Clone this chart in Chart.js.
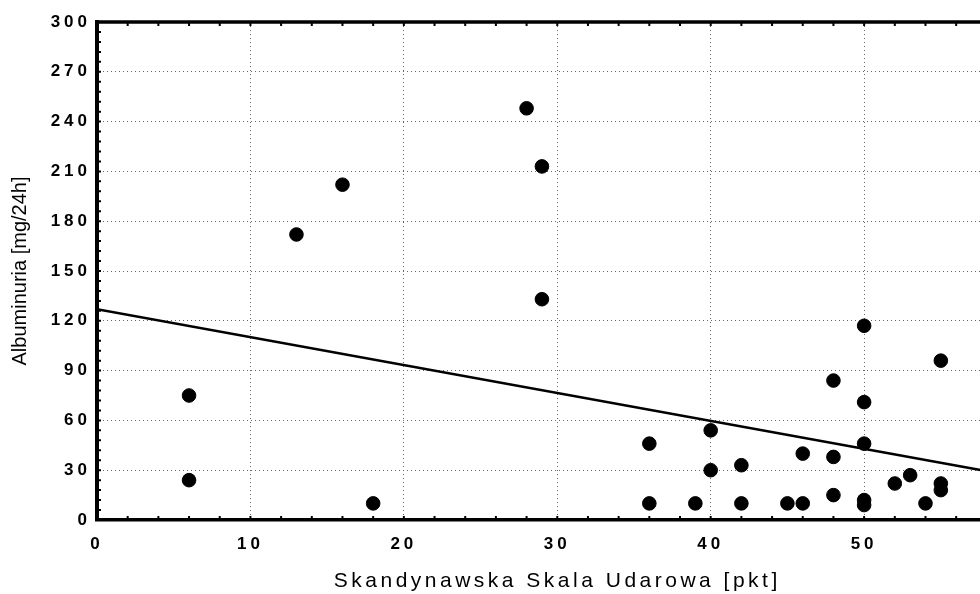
<!DOCTYPE html>
<html>
<head>
<meta charset="utf-8">
<script src="https://cdn.jsdelivr.net/npm/chart.js@4"></script>
<style>
  html, body { margin: 0; padding: 0; background: #fff; overflow: hidden; }
  #wrap { position: relative; width: 1041px; height: 594px; }
</style>
</head>
<body>
<div id="wrap"><canvas id="scatter"></canvas></div>
<script>
// Skandynawska Skala Udarowa [pkt] vs Albuminuria [mg/24h]
const sssValues = [6, 6, 13, 16, 18, 28, 29, 29, 36, 36, 39, 40, 40, 42, 42, 45, 46, 46,
  48, 48, 48, 50, 50, 50, 50, 50, 52, 53, 54, 55, 55, 55];
const albValues = [75, 24, 172, 202, 10, 248, 213, 133, 46, 10, 10, 54, 30, 33, 10, 10, 10, 40,
  84, 38, 15, 117, 71, 46, 12, 9, 22, 27, 10, 96, 22, 18];

// regression line end points
const fitX = [0, 60];
const fitY = [127, 26];

const xTicks = [0, 10, 20, 30, 40, 50, 60];
const yTicks = [0, 30, 60, 90, 120, 150, 180, 210, 240, 270, 300];

const points = sssValues.map((x, i) => ({ x: x, y: albValues[i] }));
const fitLine = fitX.map((x, i) => ({ x: x, y: fitY[i] }));

const tickFont = { family: "Liberation Sans, Arial, sans-serif", size: 17, weight: "bold" };

// frame on top + small inward minor ticks
const framePlugin = {
  id: "frame",
  afterDatasetsDraw(chart) {
    const { ctx, chartArea: a, scales } = chart;
    ctx.save();
    ctx.strokeStyle = "#000";
    ctx.lineWidth = 3.5;
    ctx.beginPath();
    ctx.moveTo(a.left - 1, a.top);
    ctx.lineTo(a.right, a.top);
    ctx.stroke();
    ctx.lineWidth = 2;
    ctx.beginPath();
    for (let v = 2; v < 60; v += 2) {
      const px = scales.x.getPixelForValue(v);
      ctx.moveTo(px, a.bottom);
      ctx.lineTo(px, a.bottom - 4);
      ctx.moveTo(px, a.top);
      ctx.lineTo(px, a.top + 4);
    }
    for (let v = 6; v < 300; v += 6) {
      const py = scales.y.getPixelForValue(v);
      ctx.moveTo(a.left, py);
      ctx.lineTo(a.left + 4, py);
    }
    ctx.stroke();
    ctx.restore();
  }
};

// spaced digits for the tick labels, plain title
const spacingPlugin = {
  id: "spacing",
  afterLayout(chart) {
    ["x", "y"].forEach(id => {
      const s = chart.scales[id];
      if (s._patched) return;
      const drawLabels = s.drawLabels;
      const drawTitle = s.drawTitle;
      s.drawLabels = function (area) {
        this.ctx.save();
        this.ctx.letterSpacing = "4px";
        drawLabels.call(this, area);
        this.ctx.restore();
      };
      s.drawTitle = function () {
        this.ctx.save();
        this.ctx.letterSpacing = id === "x" ? "3.5px" : "0px";
        drawTitle.call(this);
        this.ctx.restore();
      };
      s._patched = true;
    });
  }
};

new Chart("scatter", {
  type: "scatter",
  data: {
    datasets: [
      {
        data: points,
        backgroundColor: "#000",
        borderColor: "#000",
        pointRadius: 6.8,
        pointBorderWidth: 1,
      },
      {
        type: "line",
        data: fitLine,
        borderColor: "#000",
        borderWidth: 2.5,
        pointRadius: 0,
        fill: false,
      },
    ],
  },
  plugins: [framePlugin, spacingPlugin],
  options: {
    responsive: true,
    maintainAspectRatio: false,
    animation: false,
    events: [],
    layout: { padding: { top: 22, right: 17, left: 8, bottom: 0 } },
    plugins: { legend: { display: false }, tooltip: { enabled: false } },
    scales: {
      x: {
        type: "linear",
        min: 0,
        max: 60,
        afterBuildTicks: s => { s.ticks = xTicks.map(v => ({ value: v })); },
        afterFit: s => { s.height = 74; },
        ticks: { color: "#000", font: tickFont, padding: 14, maxRotation: 0 },
        grid: { color: "#666", lineWidth: 1, drawTicks: false },
        border: { color: "#000", width: 3.5, dash: [1, 3] },
        title: {
          display: true,
          text: "Skandynawska Skala Udarowa [pkt]",
          color: "#000",
          font: { family: "Liberation Sans, Arial, sans-serif", size: 21 },
          padding: 0,
        },
      },
      y: {
        type: "linear",
        min: 0,
        max: 300,
        afterBuildTicks: s => { s.ticks = yTicks.map(v => ({ value: v })); },
        afterFit: s => { s.width = 89; },
        ticks: { color: "#000", font: tickFont, padding: 6 },
        grid: { color: "#666", lineWidth: 1, drawTicks: false },
        border: { color: "#000", width: 4, dash: [1, 3] },
        title: {
          display: true,
          text: "Albuminuria [mg/24h]",
          color: "#000",
          font: { family: "Liberation Sans, Arial, sans-serif", size: 20 },
          padding: 0,
        },
      },
    },
  },
});
</script>
</body>
</html>
